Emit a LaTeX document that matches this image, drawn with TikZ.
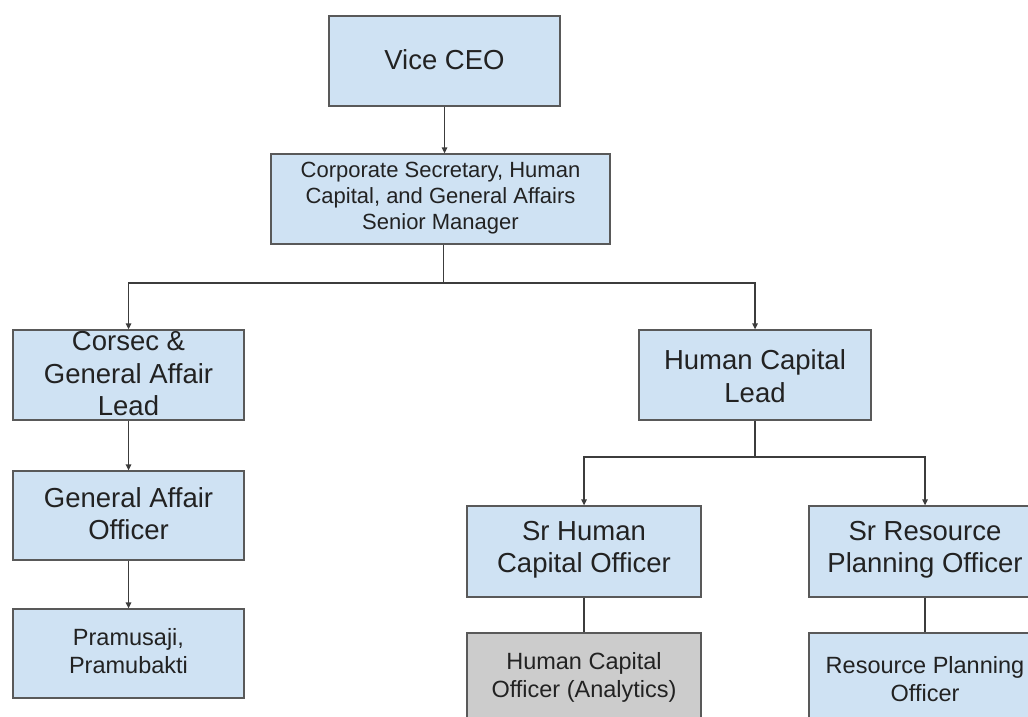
\documentclass[tikz,border=0pt]{standalone}
\usepackage{fontspec}
\setmainfont{Liberation Sans}
\usetikzlibrary{arrows.meta}
\definecolor{boxblue}{HTML}{CFE2F3}
\definecolor{boxgrey}{HTML}{CCCCCC}
\definecolor{edgegrey}{HTML}{595959}
\definecolor{linegrey}{HTML}{3C3C3C}
\definecolor{inkc}{HTML}{222222}
\begin{document}
\begin{tikzpicture}[x=1pt,y=-1pt,
  box/.style={draw=edgegrey, line width=1.3pt, fill=boxblue, inner sep=0pt,
              minimum width=232pt, minimum height=90pt},
  greybox/.style={box, fill=boxgrey},
  txtbig/.style={text=inkc, align=center, inner sep=0pt,
                 font=\fontsize{27.5pt}{32.5pt}\selectfont},
  txtmid/.style={text=inkc, align=center, inner sep=0pt,
                 font=\fontsize{22pt}{26pt}\selectfont},
  txtsmall/.style={text=inkc, align=center, inner sep=0pt,
                 font=\fontsize{23.5pt}{28pt}\selectfont},
  conn/.style={draw=linegrey, line width=1.3pt,
               -{Triangle[length=6pt,width=5.5pt]}},
  plainconn/.style={draw=linegrey, line width=1.3pt}
]
\useasboundingbox (0,0) rectangle (1028,717);
\fill[white] (0,0) rectangle (1028,717);
\clip (0,0) rectangle (1028,717);

% boxes
\node[box, minimum width=231pt] (vice) at (444.5,61) {};
\node[box, minimum width=339pt] (corp) at (440.5,199) {};
\node[box, minimum width=231pt] (corsec) at (128.5,375) {};
\node[box, minimum width=231pt, minimum height=89pt] (ga) at (128.5,515.5) {};
\node[box, minimum width=231pt, minimum height=89pt] (pram) at (128.5,653.5) {};
\node[box] (hcl) at (755,375) {};
\node[box, minimum width=234pt, minimum height=91pt] (srhc) at (584,551.5) {};
\node[box, minimum width=232pt, minimum height=91pt] (srrp) at (925,551.5) {};
\node[greybox, minimum width=234pt] (hcoa) at (584,678) {};
\node[box] (rpo) at (925,678) {};

% junction coordinates
\coordinate (j1) at (443.5,283);
\coordinate (j2) at (0,457);

% connectors
\draw[conn] (vice.south) -- (vice.south |- corp.north);
\draw[conn] (j1 |- corp.south) -- (j1) -| (corsec.north);
\draw[conn] (j1) -| (hcl.north);
\draw[conn] (corsec.south) -- (ga.north);
\draw[conn] (ga.south) -- (pram.north);
\draw[conn] (hcl.south) -- (hcl.south |- j2) -| (srhc.north);
\draw[conn] (hcl.south |- j2) -| (srrp.north);
\draw[plainconn] (srhc.south) -- (hcoa.north);
\draw[plainconn] (srrp.south) -- (rpo.north);

% texts
\node[txtbig] (tvice) at ([yshift=1pt]vice.center) {Vice CEO};
\node[txtmid] (tcorp) at ([yshift=1pt]corp.center) {Corporate Secretary, Human\\Capital, and General Affairs\\Senior Manager};
\node[txtbig] (tcorsec) at ([yshift=1pt]corsec.center) {Corsec \&\\General Affair\\Lead};
\node[txtbig] (tga) at ([yshift=2pt]ga.center) {General Affair\\Officer};
\node[txtsmall] (tpram) at ([yshift=2pt]pram.center) {Pramusaji,\\Pramubakti};
\node[txtbig] (thcl) at ([yshift=-1pt]hcl.center) {Human Capital\\Lead};
\node[txtbig] (tsrhc) at ([yshift=2pt]srhc.center) {Sr Human\\Capital Officer};
\node[txtbig] (tsrrp) at ([yshift=2pt]srrp.center) {Sr Resource\\Planning Officer};
\node[txtsmall] (thcoa) at ([yshift=1pt]hcoa.center) {Human Capital\\Officer (Analytics)};
\node[txtsmall] (trpo) at ([yshift=-1pt]rpo.center) {Resource Planning\\Officer};
\end{tikzpicture}
\end{document}
